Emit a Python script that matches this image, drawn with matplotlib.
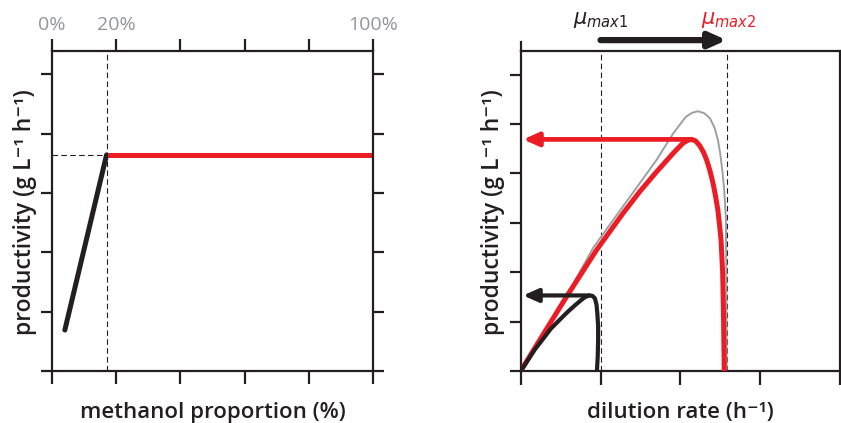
import matplotlib
matplotlib.use("Agg")
import matplotlib.pyplot as plt

plt.rcParams['font.family'] = ['Open Sans', 'DejaVu Sans']

# ---- data: left panel (methanol proportion) ----
meth_ticks = [0, 20, 40, 60, 80, 100]
meth_tick_labels = {0: '0%', 20: '20%', 100: '100%'}
meth_break = 17
black_meth_x = [4, 17]
black_meth_y = [0.69, 3.64]
red_meth_x = [17, 100]
red_meth_y = [3.64, 3.64]
left_yticks = [0, 1, 2, 3, 4, 5]

# ---- data: right panel (dilution rate) ----
D_gray = [0, 0.3, 0.6, 0.91, 1.28, 1.49, 1.70, 1.91, 2.07, 2.15, 2.22, 2.30, 2.37,
          2.43, 2.47, 2.50, 2.53, 2.55, 2.57, 2.575, 2.58]
P_gray = [0, 0.80, 1.60, 2.50, 3.33, 3.80, 4.27, 4.81, 5.15, 5.23, 5.26, 5.22, 5.12,
          4.92, 4.68, 4.40, 4.00, 3.65, 3.12, 2.2, 0]
D_red = [0, 0.3, 0.58, 0.95, 1.28, 1.49, 1.70, 1.91, 2.03, 2.09, 2.14, 2.19, 2.24,
         2.29, 2.33, 2.37, 2.41, 2.44, 2.47, 2.49, 2.51, 2.53, 2.54, 2.55]
P_red = [0, 0.79, 1.52, 2.45, 3.19, 3.63, 4.03, 4.41, 4.61, 4.67, 4.69, 4.66, 4.57,
         4.43, 4.27, 4.06, 3.80, 3.55, 3.26, 2.97, 2.65, 2.0, 1.2, 0]
D_black = [0, 0.09, 0.175, 0.28, 0.38, 0.49, 0.59, 0.68, 0.76, 0.81, 0.86, 0.90,
           0.93, 0.95, 0.96, 0.97, 0.97, 0.965, 0.955]
P_black = [0, 0.22, 0.43, 0.65, 0.86, 1.04, 1.20, 1.33, 1.44, 1.50, 1.53, 1.52,
           1.47, 1.34, 1.17, 0.9, 0.63, 0.3, 0]
mu_max1 = 1.0
mu_max2 = 2.58
red_peak = (2.14, 4.69)
black_peak = (0.86, 1.53)
right_xticks = [0, 1, 2, 3, 4]
right_yticks = [0, 1, 2, 3, 4, 5, 6]

RED = '#ec1c24'
INK = '#231f20'
GRAY_TXT = '#939598'
SP_LW = 1.6

fig = plt.figure(figsize=(8.41, 4.23), dpi=100)
axL = fig.add_axes([52/841, 52/423, 321/841, 320/423])
axR = fig.add_axes([520.7/841, 52/423, 319.3/841, 320/423])

for ax in (axL, axR):
    for s in ax.spines.values():
        s.set_linewidth(SP_LW)
        s.set_color(INK)

# ---- left panel ----
axL.set_xlim(0, 100)
axL.set_ylim(0, 5.39)
axL.plot(black_meth_x, black_meth_y, color=INK, lw=3.6, solid_capstyle='round')
axL.plot(red_meth_x, red_meth_y, color=RED, lw=3.6, solid_capstyle='butt')
axL.axvline(meth_break, color=INK, lw=0.8, ls=(0, (5, 3)))
axL.plot([0, meth_break], [red_meth_y[0]] * 2, color=INK, lw=0.8, ls=(0, (5, 3)))
axL.set_xticks(meth_ticks)
axL.set_yticks(left_yticks)
axL.tick_params(axis='both', direction='out', width=SP_LW, color=INK,
                labelbottom=False, labelleft=False)
axL.tick_params(axis='x', length=9, top=True, labeltop=False)
axL.tick_params(axis='y', length=8, right=True)
for t, lab in meth_tick_labels.items():
    axL.text(t, 1.08, lab, transform=axL.get_xaxis_transform(), ha='center', va='center',
             color=GRAY_TXT, fontsize=14, fontweight='medium')
axL.text(-0.084, 0.497, 'productivity (g L⁻¹ h⁻¹)', transform=axL.transAxes, rotation=90,
         ha='center', va='center', fontsize=16.5, fontweight='semibold', color=INK)
axL.text(0.5, -0.13, 'methanol proportion (%)', transform=axL.transAxes,
         ha='center', va='center', fontsize=16, fontweight='semibold', color=INK)

# ---- right panel ----
axR.set_xlim(0, 4)
axR.set_ylim(0, 6.48)
axR.axvline(mu_max1, color=INK, lw=0.8, ls=(0, (5, 3)), zorder=1)
axR.axvline(mu_max2, color=INK, lw=0.8, ls=(0, (5, 3)), zorder=1)
axR.plot(D_gray, P_gray, color='#9d9fa2', lw=1.4, zorder=2, solid_joinstyle='round')
axR.plot(D_red, P_red, color=RED, lw=3.6, zorder=3, solid_joinstyle='round')
axR.plot(D_black, P_black, color=INK, lw=3.0, zorder=4, solid_joinstyle='round')
axR.annotate('', xy=(0.03, red_peak[1]), xytext=red_peak,
             arrowprops=dict(arrowstyle='-|>,head_length=0.9,head_width=0.4', lw=3.4,
                             color=RED, shrinkA=0, shrinkB=0), zorder=5)
axR.annotate('', xy=(0.03, black_peak[1]), xytext=black_peak,
             arrowprops=dict(arrowstyle='-|>,head_length=0.9,head_width=0.4', lw=3.0,
                             color=INK, shrinkA=0, shrinkB=0), zorder=5)
axR.annotate('', xy=(mu_max2, 1.034), xytext=(mu_max1, 1.034),
             xycoords=axR.get_xaxis_transform(), textcoords=axR.get_xaxis_transform(),
             arrowprops=dict(arrowstyle='-|>,head_length=1.0,head_width=0.45', lw=4.5,
                             color=INK, shrinkA=0, shrinkB=0), annotation_clip=False)
axR.text(mu_max1, 1.1, r'$\mu_{max1}$', transform=axR.get_xaxis_transform(),
         ha='center', va='center', fontsize=15, color=INK)
axR.text(mu_max2 + 0.02, 1.1, r'$\mu_{max2}$', transform=axR.get_xaxis_transform(),
         ha='center', va='center', fontsize=15, color=RED)
axR.set_xticks(right_xticks)
axR.set_yticks(right_yticks)
axR.tick_params(axis='both', direction='out', width=SP_LW, color=INK,
                labelbottom=False, labelleft=False)
axR.tick_params(axis='x', length=10)
axR.tick_params(axis='y', length=8)
axR.plot([0, 0], [1.0, 1.028], transform=axR.get_xaxis_transform(), color=INK,
         lw=SP_LW, clip_on=False)
axR.text(-0.087, 0.497, 'productivity (g L⁻¹ h⁻¹)', transform=axR.transAxes, rotation=90,
         ha='center', va='center', fontsize=16.5, fontweight='semibold', color=INK)
axR.text(0.5, -0.13, 'dilution rate (h⁻¹)', transform=axR.transAxes,
         ha='center', va='center', fontsize=16, fontweight='semibold', color=INK)

fig.savefig('out.png', dpi=100)
